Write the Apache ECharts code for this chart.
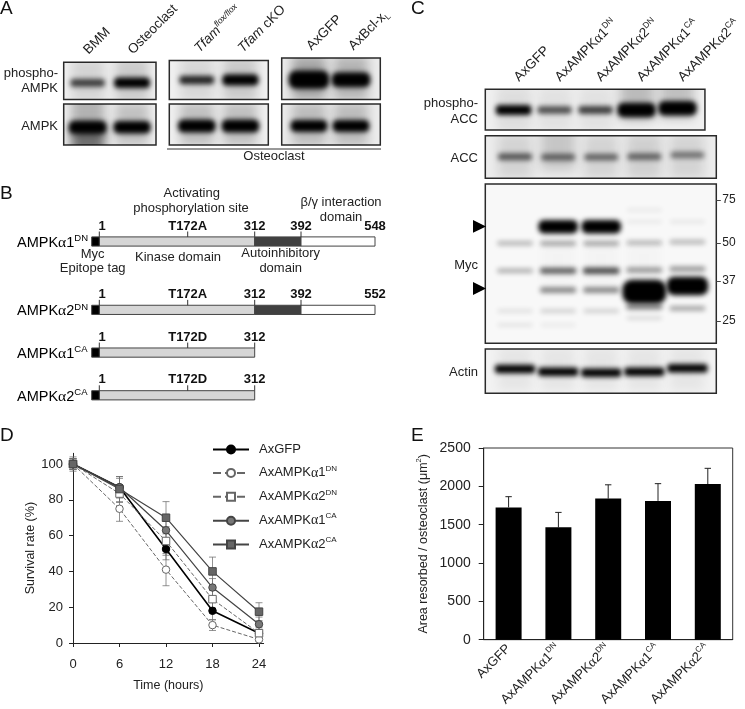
<!DOCTYPE html>
<html>
<head>
<meta charset="utf-8">
<style>html,body{margin:0;padding:0;background:#fff}#main{width:745px;height:709px}</style>
<script src="https://cdn.jsdelivr.net/npm/echarts@6/dist/echarts.min.js"></script>
</head>
<body>
<div id="main"></div>
<script>
// --- panel D
const hours = [0, 6, 12, 18, 24];
const survivalTicks = [0, 20, 40, 60, 80, 100];
const survGfp = [100, 87, 52.5, 18, 5.5];
const survA1Dn = [100, 75, 41, 10, 2];
const survA2Dn = [100, 83.5, 57, 24.5, 5.5];
const survA1Ca = [100, 87, 63, 31, 10.5];
const survA2Ca = [100, 86, 70, 40, 17.5];
const errGfp = [3, 5, 6, 5, 2];
const errA1Dn = [3, 7, 9, 3, 1];
const errA2Dn = [3, 5, 8, 5, 3];
const errA1Ca = [3, 6, 8, 5, 4];
const errA2Ca = [4, 7, 9, 8, 5];

// --- panel E
const virusNames = ['AxGFP', 'AxAMPKα1DN', 'AxAMPKα2DN', 'AxAMPKα1CA', 'AxAMPKα2CA'];
const areaMeans = [1725, 1465, 1840, 1810, 2030];
const areaTops = [1865, 1660, 2020, 2035, 2235];

// --- panel B
const constructNames = ['1DN', '2DN', '1CA', '2CA'];
const constructRows = [0, 1.6, 2.6, 3.6];
const constructEnds = [548, 552, 312, 312];
const constructSites = ['T172A', 'T172A', 'T172D', 'T172D'];

// --- blots, each band is [lane, migration, intensity]
const bandsPAmpkA = [[0, 23, .6], [1, 23, 1]];
const bandsAmpkA = [[0, 23.3, 1.4], [1, 23.3, 1.3]];
const bandsPAmpkB = [[0, 20.7, .7], [1, 20.7, 1.1]];
const bandsAmpkB = [[0, 22, 1.4], [1, 22, 1.4]];
const bandsPAmpkC = [[0, 21.7, 2.2], [1, 21.7, 1.7]];
const bandsAmpkC = [[0, 22, 1.2], [1, 22, 1.2]];
const smearPAmpkA = [[0, 20, .12], [1, 20, .16]];
const smearAmpkA = [[0, 10, .26], [0, 44, .52], [1, 20, .2]];
const smearPAmpkB = [[0, 20, .1], [1, 20, .16]];
const smearAmpkB = [[0, 20, .2], [1, 20, .2]];
const smearPAmpkC = [[0, 20, .3], [1, 20, .24]];
const smearAmpkC = [[0, 20, .2], [1, 20, .2]];

const bandsPAcc = [[0, 20.7, .9], [1, 20.7, .55], [2, 20.7, .6], [3, 20.7, 1.6], [4, 19, 1.6]];
const bandsAcc = [[0, 21, .5], [1, 21.5, .45], [2, 21.5, .45], [3, 21, .45], [4, 19.3, .4]];
const bandsActin = [[0, 20, 1.1], [1, 22.7, 1.1], [2, 23.7, 1.1], [3, 22.7, 1.1], [4, 19.3, 1.1]];
const bandsMyc = [
  [1, 42.7, 1.5], [2, 42.7, 1.5],
  [0, 59.3, .2], [1, 59.3, .25], [2, 59.3, .25], [3, 58.7, .2], [4, 58, .2],
  [0, 86.7, .22], [1, 86.7, .45], [2, 86.7, .5], [3, 86, .3], [4, 85, .3],
  [1, 106, .35], [2, 106, .35],
  [3, 107.7, 3], [4, 102, 2.2],
  [0, 127, .08], [1, 127, .12], [2, 127, .12], [3, 122.7, .35], [4, 124.3, .25],
  [0, 141, .07], [1, 141, .05], [3, 134, .1],
  [3, 37.7, .05], [4, 37.7, .06], [3, 26, .05]
];
const smearPAcc = [[3, 10, .22], [4, 8, .2], [1, 20, .06], [2, 20, .06], [0, 20, .08]];
const smearAcc = [[0, 20, .1], [1, 12, .16], [2, 20, .1], [3, 20, .12], [4, 20, .1]];
const smearActin = [[0, 20, .05], [1, 20, .05], [2, 20, .05], [3, 20, .05], [4, 20, .05]];
const smearMyc = [[1, 80, .02], [2, 80, .02], [3, 80, .02]];
const markerKda = [75, 50, 37, 25];
const markerMigration = [16, 59, 97, 137];

const font = '"Liberation Sans", Arial, sans-serif';
const ink = '#222';

const sup = (size, color) => ({
  a: { fontSize: size, fontFamily: font, color, lineHeight: size + 4 },
  g: { fontSize: size + 1, fontFamily: '"Liberation Serif", serif', color, lineHeight: size + 4 },
  s: { fontSize: size - 5, fontFamily: font, color, verticalAlign: 'top', lineHeight: size + 4 },
  i: { fontSize: size, fontFamily: font, fontStyle: 'italic', color, lineHeight: size + 4 },
  u: { fontSize: size - 5, fontFamily: font, fontStyle: 'italic', color, verticalAlign: 'top', lineHeight: size + 4 },
  d: { fontSize: size - 5, fontFamily: font, color, verticalAlign: 'bottom', lineHeight: size + 4 }
});
// AxAMPKα1DN -> rich text with the serif alpha and the superscript
const richName = (name) => {
  const m = name.match(/^(.*)α(\d)(DN|CA)$/);
  return m ? `{a|${m[1]}}{g|α}{a|${m[2]}}{s|${m[3]}}` : `{a|${name}}`;
};

const grids = [], xAxes = [], yAxes = [], series = [];

// blurred band: the rect sits off canvas, only its shadow lands in the frame
const OFF = 3000;
const blotRenderer = (blot, isSmear) => (params, api) => {
  const c = api.coord([api.value(0), api.value(1)]);
  const v = api.value(2);
  const w = isSmear ? blot.laneWidth : blot.w0 + blot.w1 * v;
  const h = isSmear ? 44 : blot.t0 + blot.t1 * v;
  const a = isSmear ? v : Math.min(1, v * blot.gain);
  return {
    type: 'rect',
    shape: { x: c[0] - w / 2 - OFF, y: c[1] - h / 2, width: w, height: h, r: isSmear ? 0 : h * 0.4 },
    style: {
      fill: '#000',
      shadowColor: `rgba(0,0,0,${a})`,
      shadowBlur: isSmear ? 10 : blot.blur,
      shadowOffsetX: OFF
    }
  };
};

function addBlot(b) {
  const idx = grids.length;
  const d = Object.assign({ w0: 32, w1: 4, t0: 4, t1: 6.5, gain: 1.8, blur: 5, laneWidth: 34, labelShift: 0 }, b);
  grids.push({
    show: true, left: d.x, top: d.y, width: d.w, height: d.h,
    backgroundColor: d.bg, borderColor: '#2a2a2a', borderWidth: 1.5, containLabel: false
  });
  xAxes.push({
    gridIndex: idx, type: 'value', min: d.min, max: d.max, position: 'top',
    axisLine: { show: false }, axisTick: { show: false }, splitLine: { show: false },
    axisLabel: d.labels ? {
      show: true, rotate: 45, margin: 10, customValues: d.labels.map((_, i) => i + d.labelShift),
      formatter: (v) => d.labels[Math.round(v)], rich: sup(13.5, ink)
    } : { show: false }
  });
  yAxes.push({
    gridIndex: idx, type: 'value', inverse: true, min: 0, max: d.h,
    position: 'right',
    axisLine: { show: false, onZero: false }, splitLine: { show: false },
    axisTick: d.markers ? { show: true, length: 4.5, lineStyle: { color: '#444' }, customValues: markerMigration } : { show: false },
    axisLabel: d.markers ? {
      show: true, margin: 6, fontSize: 12, fontFamily: font, color: ink,
      customValues: markerMigration,
      formatter: (v) => markerKda[markerMigration.indexOf(v)]
    } : { show: false }
  });
  series.push({
    type: 'custom', xAxisIndex: idx, yAxisIndex: idx, clip: true, silent: true,
    encode: { x: 0, y: 1 }, data: d.smear, renderItem: blotRenderer(d, true)
  });
  series.push({
    type: 'custom', xAxisIndex: idx, yAxisIndex: idx, clip: true, silent: true,
    encode: { x: 0, y: 1 }, data: d.bands, renderItem: blotRenderer(d, false)
  });
}

// panel A
const labelsA = ['{a|BMM}', '{a|Osteoclast}'];
const labelsB = ['{i|Tfam}{u|flox/flox}', '{i|Tfam}{a| cKO}'];
const labelsC = ['{a|AxGFP}', '{a|AxBcl-x}{d|L}'];
addBlot({ x: 63.7, y: 58, w: 92.3, h: 41.5, min: -.54, max: 1.54, bg: '#f2f2f2', bands: bandsPAmpkA, smear: smearPAmpkA, labels: labelsA, labelShift: -.04, gain: 1.2 });
addBlot({ x: 63.7, y: 104, w: 92.3, h: 41, min: -.54, max: 1.54, bg: '#f2f2f2', bands: bandsAmpkA, smear: smearAmpkA });
addBlot({ x: 169.3, y: 58, w: 99, h: 41.5, min: -.63, max: 1.64, bg: '#f0f0f0', bands: bandsPAmpkB, smear: smearPAmpkB, labels: labelsB, gain: 1.2 });
addBlot({ x: 169.3, y: 104, w: 99, h: 41, min: -.63, max: 1.64, bg: '#f0f0f0', bands: bandsAmpkB, smear: smearAmpkB });
addBlot({ x: 281.7, y: 58, w: 98.6, h: 41.5, min: -.65, max: 1.7, bg: '#ececec', bands: bandsPAmpkC, smear: smearPAmpkC, labels: labelsC });
addBlot({ x: 281.7, y: 104, w: 98.6, h: 41, min: -.65, max: 1.7, bg: '#ececec', bands: bandsAmpkC, smear: smearAmpkC });

// panel C
addBlot({ x: 485.3, y: 89.3, w: 231, h: 40.7, min: -.69, max: 4.67, bg: '#f0f0f0', bands: bandsPAcc, smear: smearPAcc, labels: virusNames.map(richName), labelShift: .07, gain: 1.2 });
addBlot({ x: 485.3, y: 135.7, w: 231, h: 42.6, min: -.69, max: 4.67, bg: '#ececec', bands: bandsAcc, smear: smearAcc, t0: 5, t1: 4, w0: 32, gain: 1.2 });
addBlot({ x: 485.3, y: 184, w: 231, h: 159.3, min: -.69, max: 4.67, bg: '#f8f8f8', bands: bandsMyc, smear: smearMyc, markers: true, t0: 3, t1: 7, w0: 35, w1: 3, gain: 1.4 });
addBlot({ x: 485.3, y: 349, w: 231, h: 44.3, min: -.69, max: 4.67, bg: '#f2f2f2', bands: bandsActin, smear: smearActin, t0: 3, t1: 5, w0: 36 });

// panel B: one hidden grid, residues are placed piecewise like the drawing
const residueAnchors = [[0, 0], [1, 7.6], [172, 96], [312, 163], [392, 209.3], [552, 283.3]];
function residueX(res) {
  if (res >= 548) return 283.3;
  for (let i = 1; i < residueAnchors.length; i++) {
    const [r0, x0] = residueAnchors[i - 1], [r1, x1] = residueAnchors[i];
    if (res <= r1) return x0 + (res - r0) / (r1 - r0) * (x1 - x0);
  }
}
const bIdx = grids.length;
grids.push({ left: 91.7, top: 241.5, width: 283.3, height: 153.8 });
xAxes.push({ gridIndex: bIdx, type: 'value', min: 0, max: 283.3, show: false });
yAxes.push({ gridIndex: bIdx, type: 'value', min: 0, max: 3.6, inverse: true, show: false });
const boldLabel = (text, x, y) => ({
  type: 'text', x, y,
  style: { text, fontFamily: font, fontSize: 13, fontWeight: 'bold', fill: '#111', align: 'center', verticalAlign: 'middle' }
});
series.push({
  type: 'custom', xAxisIndex: bIdx, yAxisIndex: bIdx, silent: true,
  encode: { x: 0, y: 1 },
  data: constructRows.map((r, i) => [0, r, constructEnds[i], i]),
  renderItem: (params, api) => {
    const i = api.value(3), end = api.value(2);
    const y = api.coord([0, api.value(1)])[1];
    const X = (res) => api.coord([residueX(res), 0])[0];
    const seg = (a, b, fill) => ({
      type: 'rect', shape: { x: a, y: y - 4.6, width: b - a, height: 9.2 },
      style: { fill, stroke: '#444', lineWidth: 1 }
    });
    const tick = (x) => ({ type: 'line', shape: { x1: x, y1: y - 10, x2: x, y2: y - 4.6 }, style: { stroke: '#333', lineWidth: 1 } });
    const children = [
      seg(X(1), X(312), '#d6d6d6'),
      seg(X(0), X(1), '#000'),
      tick(X(1)), tick(X(172)), tick(X(312)),
      boldLabel('1', X(1) + 2.7, y - 15.5),
      boldLabel(constructSites[i], X(172), y - 15.5),
      boldLabel('312', X(312), y - 15.5),
      {
        type: 'text', x: 17, y: y + 1.5,
        style: { text: richName('AMPKα' + constructNames[i]), rich: sup(14.5, ink), align: 'left', verticalAlign: 'middle' }
      }
    ];
    if (end > 312) {
      children.push(seg(X(312), X(392), '#404040'), seg(X(392), X(end), '#fff'),
        tick(X(392)), boldLabel('392', X(392), y - 15.5), boldLabel(String(end), X(end), y - 15.5));
    }
    return { type: 'group', children };
  }
});

// panel D
const dIdx = grids.length;
grids.push({ left: 73, top: 453.3, width: 190.65, height: 189.7 });
xAxes.push({
  gridIndex: dIdx, type: 'value', min: 0, max: 24.6,
  name: 'Time (hours)', nameLocation: 'middle', nameGap: 36,
  nameTextStyle: { fontSize: 12.5, fontFamily: font, color: ink },
  axisLine: { lineStyle: { color: '#222', width: 1 } },
  axisTick: { length: 4, lineStyle: { color: '#222' }, customValues: hours },
  axisLabel: { fontSize: 13, fontFamily: font, color: ink, margin: 15, customValues: hours },
  splitLine: { show: false }
});
yAxes.push({
  gridIndex: dIdx, type: 'value', min: 0, max: 106,
  name: 'Survival rate (%)', nameLocation: 'middle', nameGap: 32, nameRotate: 90,
  nameTextStyle: { fontSize: 12.5, fontFamily: font, color: ink },
  axisLine: { show: true, onZero: false, lineStyle: { color: '#222', width: 1 } },
  axisTick: { show: true, length: 4, lineStyle: { color: '#222' }, customValues: survivalTicks },
  axisLabel: { fontSize: 13, fontFamily: font, color: ink, margin: 10, customValues: survivalTicks },
  splitLine: { show: false }
});
const lines = [
  { name: 'AxGFP', data: survGfp, err: errGfp, symbol: 'circle', fill: '#000', stroke: '#000', type: 'solid', width: 1.6 },
  { name: 'AxAMPKα1DN', data: survA1Dn, err: errA1Dn, symbol: 'circle', fill: '#fff', stroke: '#666', type: 'dashed', width: 1 },
  { name: 'AxAMPKα2DN', data: survA2Dn, err: errA2Dn, symbol: 'rect', fill: '#fff', stroke: '#666', type: 'dashed', width: 1 },
  { name: 'AxAMPKα1CA', data: survA1Ca, err: errA1Ca, symbol: 'circle', fill: '#777', stroke: '#444', type: 'solid', width: 1.2 },
  { name: 'AxAMPKα2CA', data: survA2Ca, err: errA2Ca, symbol: 'rect', fill: '#666', stroke: '#444', type: 'solid', width: 1.2 }
];
const errRows = [];
lines.forEach((l) => l.data.forEach((v, i) => errRows.push([hours[i], v - l.err[i], v + l.err[i]])));
series.push({
  type: 'custom', xAxisIndex: dIdx, yAxisIndex: dIdx, silent: true, z: 1,
  encode: { x: 0, y: [1, 2] }, data: errRows,
  renderItem: (params, api) => {
    const lo = api.coord([api.value(0), api.value(1)]);
    const hi = api.coord([api.value(0), api.value(2)]);
    const st = { stroke: 'rgba(110,110,110,.75)', lineWidth: 1 };
    return {
      type: 'group', children: [
        { type: 'line', shape: { x1: lo[0], y1: lo[1], x2: hi[0], y2: hi[1] }, style: st },
        { type: 'line', shape: { x1: lo[0] - 3.5, y1: lo[1], x2: lo[0] + 3.5, y2: lo[1] }, style: st },
        { type: 'line', shape: { x1: hi[0] - 3.5, y1: hi[1], x2: hi[0] + 3.5, y2: hi[1] }, style: st }
      ]
    };
  }
});
lines.forEach((l) => series.push({
  name: l.name, type: 'line', xAxisIndex: dIdx, yAxisIndex: dIdx, z: 3,
  data: l.data.map((v, i) => [hours[i], v]),
  symbol: l.symbol, symbolSize: 7.5, showAllSymbol: true,
  lineStyle: { color: l.stroke, width: l.width, type: l.type },
  itemStyle: { color: l.fill, borderColor: l.stroke, borderWidth: 1 }
}));

// panel E
const eIdx = grids.length;
grids.push({ show: true, left: 483.7, top: 448, width: 249, height: 195, borderColor: '#333', borderWidth: 1, backgroundColor: 'transparent' });
xAxes.push({
  gridIndex: eIdx, type: 'category', data: virusNames,
  axisLine: { lineStyle: { color: '#222', width: 1 } }, axisTick: { show: false },
  axisLabel: { rotate: 45, margin: 7, interval: 0, formatter: richName, rich: sup(13, ink) }
});
yAxes.push({
  gridIndex: eIdx, type: 'value', min: 0, max: 2500, interval: 500,
  name: '{a|Area resorbed / osteoclast (μm}{s|2}{a|)}', nameLocation: 'middle', nameGap: 52, nameRotate: 90,
  nameTextStyle: { rich: sup(12.5, ink) },
  axisLine: { show: true, lineStyle: { color: '#222', width: 1 } },
  axisTick: { show: true, length: 5, lineStyle: { color: '#222' } },
  axisLabel: { fontSize: 14, fontFamily: font, color: ink, margin: 13, formatter: (v) => String(v) },
  splitLine: { show: false }
});
series.push({
  type: 'custom', xAxisIndex: eIdx, yAxisIndex: eIdx, silent: true, z: 1,
  encode: { x: 0, y: [1, 2] },
  data: areaMeans.map((v, i) => [i, v, areaTops[i]]),
  renderItem: (params, api) => {
    const lo = api.coord([api.value(0), api.value(1)]);
    const hi = api.coord([api.value(0), api.value(2)]);
    const st = { stroke: '#222', lineWidth: 1 };
    return {
      type: 'group', children: [
        { type: 'line', shape: { x1: lo[0], y1: lo[1], x2: hi[0], y2: hi[1] }, style: st },
        { type: 'line', shape: { x1: hi[0] - 3.2, y1: hi[1], x2: hi[0] + 3.2, y2: hi[1] }, style: st }
      ]
    };
  }
});
series.push({
  type: 'bar', xAxisIndex: eIdx, yAxisIndex: eIdx, data: areaMeans, barWidth: 26, z: 2,
  itemStyle: { color: '#000' }
});

// free text
const txt = (text, x, y, align, size, extra) => ({
  type: 'text', x, y, silent: true,
  style: Object.assign({ text, align: align || 'center', verticalAlign: 'middle', fontFamily: font, fontSize: size || 13, fill: ink }, extra)
});
const letter = (t, x, y) => txt(t, x, y, 'left', 19, { fill: '#111' });
const texts = [
  letter('A', 0, 9), letter('B', 0, 194), letter('C', 411, 9), letter('D', 0, 436), letter('E', 411, 436),
  txt('phospho-', 58, 73, 'right'), txt('AMPK', 58, 88, 'right'), txt('AMPK', 58, 126, 'right'),
  txt('Osteoclast', 274, 156),
  txt('phospho-', 478, 103, 'right'), txt('ACC', 478, 119, 'right'), txt('ACC', 478, 158.7, 'right'),
  txt('Myc', 478, 265, 'right'), txt('Actin', 478, 372, 'right'),
  txt('Activating', 191.7, 193), txt('phosphorylation site', 191, 208),
  txt('β/γ interaction', 341, 202), txt('domain', 341, 217),
  txt('Myc', 92.7, 254), txt('Epitope tag', 92.7, 268.7),
  txt('Kinase domain', 178, 257),
  txt('Autoinhibitory', 280.7, 253.7), txt('domain', 280.7, 268),
  { type: 'line', silent: true, shape: { x1: 167, y1: 149, x2: 381, y2: 149 }, style: { stroke: '#333', lineWidth: 1 } },
  { type: 'polygon', silent: true, shape: { points: [[473, 220], [486, 226.4], [473, 232.7]] }, style: { fill: '#000' } },
  { type: 'polygon', silent: true, shape: { points: [[473, 282], [486, 288.4], [473, 295]] }, style: { fill: '#000' } }
];

const chart = echarts.init(document.getElementById('main'), null, { renderer: 'canvas' });
chart.setOption({
  animation: false,
  backgroundColor: '#fff',
  textStyle: { fontFamily: font },
  tooltip: { show: false },
  grid: grids, xAxis: xAxes, yAxis: yAxes, series,
  legend: {
    orient: 'vertical', left: 212, top: 443, padding: 0, itemWidth: 36, itemHeight: 10, itemGap: 8.4,
    data: lines.map((l) => l.name),
    formatter: richName,
    textStyle: { rich: sup(13, ink), padding: [0, 0, 0, 5] },
    selectedMode: false
  },
  graphic: { elements: texts }
});
</script>
</body>
</html>
